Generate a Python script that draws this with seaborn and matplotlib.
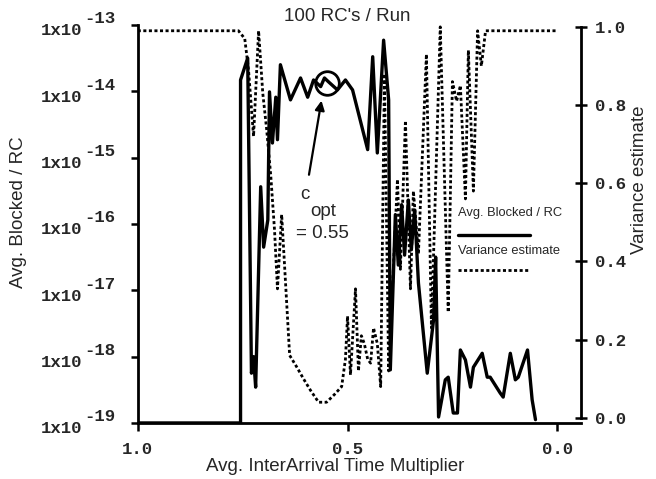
import numpy as np
import pandas as pd
import seaborn as sns
import matplotlib

matplotlib.use("Agg")
import matplotlib.pyplot as plt
from matplotlib import transforms

sns.set_theme(style="ticks")
plt.rcParams["font.family"] = ["Liberation Sans", "DejaVu Sans"]

# Avg. blocked / RC (stored as log10 exponents) vs. inter-arrival multiplier
blocked_x = [1.0, 0.755, 0.755, 0.738, 0.729, 0.724, 0.719, 0.707, 0.700, 0.690,
             0.686, 0.679, 0.671, 0.667, 0.660, 0.636, 0.612, 0.595, 0.581, 0.564,
             0.555, 0.545, 0.524, 0.505, 0.488, 0.474, 0.452, 0.440, 0.429, 0.414,
             0.402, 0.398, 0.386, 0.379, 0.371, 0.364, 0.355, 0.348, 0.340, 0.331,
             0.310, 0.295, 0.290, 0.283, 0.267, 0.260, 0.248, 0.238, 0.231, 0.219,
             0.207, 0.200, 0.179, 0.167, 0.160, 0.136, 0.129, 0.112, 0.100, 0.093,
             0.071, 0.060, 0.052]
blocked_exp = [-19.0, -19.0, -13.83, -13.50, -18.25, -18.0, -18.46, -15.44, -16.35, -15.94,
               -14.01, -14.78, -14.09, -14.73, -13.60, -14.13, -13.80, -14.09, -13.83, -13.93,
               -13.80, -13.86, -13.98, -13.83, -13.98, -14.33, -14.88, -13.48, -14.93, -13.23,
               -14.13, -18.20, -15.86, -16.62, -15.71, -16.47, -15.64, -16.39, -15.79, -16.89,
               -18.25, -17.45, -16.50, -18.91, -18.35, -18.31, -18.85, -18.85, -17.90, -18.05,
               -18.46, -18.16, -17.95, -18.31, -18.31, -18.55, -18.61, -17.95, -18.35, -18.31,
               -17.90, -18.65, -18.95]

# Variance estimate
var_x = [1.0, 0.760, 0.745, 0.736, 0.724, 0.712, 0.702, 0.693, 0.683, 0.674,
         0.667, 0.657, 0.648, 0.638, 0.621, 0.605, 0.588, 0.569, 0.550, 0.531,
         0.514, 0.505, 0.500, 0.493, 0.481, 0.474, 0.467, 0.460, 0.452, 0.445,
         0.438, 0.429, 0.421, 0.412, 0.402, 0.381, 0.374, 0.362, 0.350, 0.343,
         0.331, 0.312, 0.300, 0.279, 0.260, 0.250, 0.240, 0.231, 0.219, 0.212,
         0.200, 0.190, 0.181, 0.171, 0.0]
var_y = [0.99, 0.99, 0.97, 0.89, 0.72, 0.99, 0.83, 0.74, 0.62, 0.48,
         0.33, 0.52, 0.35, 0.16, 0.13, 0.10, 0.07, 0.04, 0.04, 0.06,
         0.08, 0.15, 0.26, 0.11, 0.33, 0.12, 0.21, 0.19, 0.15, 0.14,
         0.23, 0.19, 0.08, 0.88, 0.12, 0.61, 0.38, 0.76, 0.33, 0.58,
         0.42, 0.93, 0.23, 1.0, 0.27, 0.86, 0.81, 0.85, 0.56, 0.94,
         0.58, 0.99, 0.90, 0.99, 0.99]

c_opt = 0.55
c_opt_exp = -13.87

y_exps = [-19, -18, -17, -16, -15, -14, -13]
x_ticks = [1.0, 0.5, 0.0]
x_labels = ["1.0", "0.5", "0.0"]
var_ticks = [0.0, 0.2, 0.4, 0.6, 0.8, 1.0]
var_labels = ["0.0", "0.2", "0.4", "0.6", "0.8", "1.0"]

blocked = pd.DataFrame({"x": blocked_x, "y": 10.0 ** np.array(blocked_exp)})
variance = pd.DataFrame({"x": var_x, "y": var_y})

mono = {"family": "Liberation Mono", "weight": "bold", "size": 12.5}
dots = (0, (1.1, 0.9))

fig = plt.figure(figsize=(6.56, 4.79), dpi=100)
ax = fig.add_axes([0.210, 0.117, 0.676, 0.831])
ax.set_yscale("log")
ax.set_xlim(1.0, -0.057)
ax.set_ylim(1e-19, 1e-13)

sns.lineplot(data=blocked, x="x", y="y", ax=ax, sort=False, estimator=None,
             color="black", linewidth=2.4)

ax2 = ax.twinx()
sns.lineplot(data=variance, x="x", y="y", ax=ax2, sort=False, estimator=None,
             color="black", linewidth=2.0)
ax2.lines[0].set_linestyle(dots)
ax2.set_ylim(-0.013, 1.005)
ax2.set_xlim(1.0, -0.057)

# spines
for a in (ax, ax2):
    a.spines["top"].set_visible(False)
ax.spines["right"].set_visible(False)
ax2.spines["left"].set_visible(False)
ax2.spines["bottom"].set_visible(False)
for s in ("left", "bottom"):
    ax.spines[s].set_linewidth(2.0)
    ax.spines[s].set_color("black")
ax2.spines["right"].set_linewidth(2.0)
ax2.spines["right"].set_color("black")
ax2.spines["right"].set_bounds(0.0, 1.0)

# x axis
ax.set_xticks(x_ticks)
ax.set_xticklabels(x_labels, fontdict=mono)
ax.tick_params(axis="x", direction="out", length=6, width=1.8, pad=8, color="black")
ax.set_xlabel("Avg. InterArrival Time Multiplier", fontsize=13.5)
ax.xaxis.set_label_coords(0.445, -0.088)

# left log axis, labels drawn as 1x10 with raised exponent
ax.set_yticks([10.0 ** e for e in y_exps])
ax.yaxis.set_minor_locator(matplotlib.ticker.NullLocator())
ax.set_yticklabels([])
ax.tick_params(axis="y", direction="out", length=5, width=1.8, color="black")
trans = transforms.blended_transform_factory(ax.transAxes, ax.transData)
base_t = transforms.offset_copy(trans, fig=fig, x=0, y=-6, units="dots")
sup_t = transforms.offset_copy(trans, fig=fig, x=0, y=6, units="dots")
for e in y_exps:
    ax.text(-0.126, 10.0 ** e, "1x10", ha="right", va="center", transform=base_t, fontdict=mono)
    ax.text(-0.121, 10.0 ** e, str(e), ha="left", va="center", transform=sup_t, fontdict=mono)
ax.set_ylabel("Avg. Blocked / RC", fontsize=13.5)
ax.yaxis.set_label_coords(-0.25, 0.53)

# right variance axis
ax2.set_yticks(var_ticks)
ax2.set_yticklabels(var_labels, fontdict=mono)
ax2.tick_params(axis="y", direction="inout", length=8, width=1.8, pad=6, color="black")
ax2.set_ylabel("Variance estimate", fontsize=13.5, rotation=90)
ax2.yaxis.set_label_coords(1.112, 0.61)

ax.set_title("100 RC's / Run", fontsize=13.5, x=0.472, pad=3)

# c_opt marker and annotation
ax.plot([c_opt], [10.0 ** c_opt_exp], marker="o", markersize=17, mfc="none",
        mec="black", mew=2.0, linestyle="none")
ax.annotate("", xy=(0.561, 10.0 ** -14.1), xytext=(0.593, 10.0 ** -15.3),
            arrowprops=dict(arrowstyle="-|>", color="black", lw=1.6, mutation_scale=14))
ax.text(0.602, 10.0 ** -15.55, "c", fontsize=13.5, ha="center", va="center")
ax.text(0.557, 10.0 ** -15.82, "opt", fontsize=13.5, ha="center", va="center")
ax.text(0.560, 10.0 ** -16.14, "= 0.55", fontsize=13.5, ha="center", va="center")

# legend drawn inside the axes, label above each line sample
ax.text(0.722, 0.528, "Avg. Blocked / RC", transform=ax.transAxes, fontsize=9.3,
        ha="left", va="center")
ax.plot([0.722, 0.885], [0.472, 0.472], transform=ax.transAxes, color="black", lw=2.4)
ax.text(0.722, 0.433, "Variance estimate", transform=ax.transAxes, fontsize=9.3,
        ha="left", va="center")
ax.plot([0.722, 0.885], [0.384, 0.384], transform=ax.transAxes, color="black", lw=2.0,
        linestyle=dots)

fig.savefig("out.png", dpi=100)
